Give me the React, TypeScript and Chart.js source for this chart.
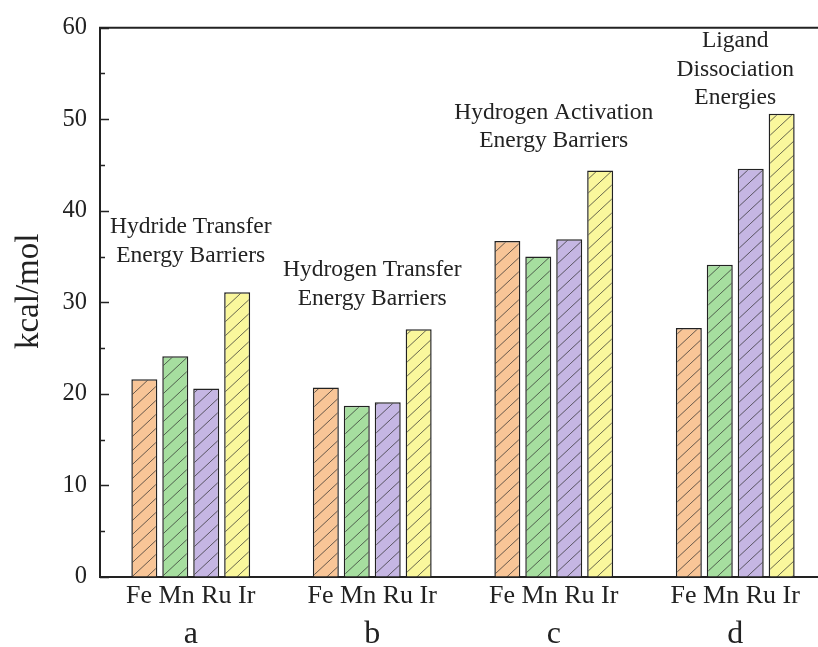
import React, { useEffect, useRef } from "react";
import { Chart, registerables } from "chart.js";

Chart.register(...registerables);

const groups = ["a", "b", "c", "d"];
const groupTickLabel = "Fe Mn Ru Ir";
const metals = ["Fe", "Mn", "Ru", "Ir"];
const feValues = [21.6, 20.7, 36.7, 27.2];
const mnValues = [24.1, 18.7, 35.0, 34.1];
const ruValues = [20.6, 19.1, 36.9, 44.6];
const irValues = [31.1, 27.05, 44.4, 50.6];
const metalColors = ["#F8C597", "#A6DE9F", "#C5B6E3", "#FAF79C"];
const annotationLines = [
  ["Hydride Transfer", "Energy Barriers"],
  ["Hydrogen Transfer", "Energy Barriers"],
  ["Hydrogen Activation", "Energy Barriers"],
  ["Ligand", "Dissociation", "Energies"],
];
const annotationAnchors = [35.1, 30.4, 47.6, 52.3];
const yMajorTicks = [0, 10, 20, 30, 40, 50, 60];
const yMinorTicks = [5, 15, 25, 35, 45, 55];
const yTitle = "kcal/mol";

const FONT = "'Liberation Serif', 'Times New Roman', serif";
const INK = "#222222";

function makeHatch(color: string): CanvasPattern | string {
  const w = 15;
  const h = 14;
  const c = document.createElement("canvas");
  c.width = w;
  c.height = h;
  const g = c.getContext("2d");
  if (!g) return color;
  g.fillStyle = color;
  g.fillRect(0, 0, w, h);
  g.strokeStyle = "rgba(45,45,45,0.8)";
  g.lineWidth = 0.9;
  g.beginPath();
  g.moveTo(-w, h);
  g.lineTo(0, 0);
  g.moveTo(0, h);
  g.lineTo(w, 0);
  g.moveTo(w, h);
  g.lineTo(2 * w, 0);
  g.stroke();
  const p = g.createPattern(c, "repeat");
  return p || color;
}

const decorPlugin = {
  id: "decor",
  afterDraw(chart: any) {
    const { ctx, chartArea, scales } = chart;
    const y = scales.y;
    const x = scales.x;
    ctx.save();
    ctx.strokeStyle = INK;
    ctx.lineWidth = 2;
    // top frame line
    ctx.beginPath();
    ctx.moveTo(chartArea.left - 1, chartArea.top);
    ctx.lineTo(chartArea.right + 2, chartArea.top);
    ctx.stroke();
    // inward ticks on y axis
    ctx.lineWidth = 1.6;
    ctx.beginPath();
    yMajorTicks.forEach((v) => {
      const py = Math.round(y.getPixelForValue(v)) + 0.5;
      ctx.moveTo(chartArea.left, py);
      ctx.lineTo(chartArea.left + 9, py);
    });
    yMinorTicks.forEach((v) => {
      const py = Math.round(y.getPixelForValue(v)) + 0.5;
      ctx.moveTo(chartArea.left, py);
      ctx.lineTo(chartArea.left + 5, py);
    });
    ctx.stroke();
    // annotations
    ctx.fillStyle = INK;
    ctx.font = `23.5px ${FONT}`;
    ctx.textAlign = "center";
    ctx.textBaseline = "middle";
    const lh = 28.5;
    annotationLines.forEach((lines, i) => {
      const cx = x.getPixelForValue(i);
      const cy = y.getPixelForValue(annotationAnchors[i]);
      const n = lines.length;
      lines.forEach((t, k) => {
        ctx.fillText(t, cx, cy - (n - 1 - k) * lh);
      });
    });
    // y title
    ctx.font = `33px ${FONT}`;
    ctx.translate(29, (chartArea.top + chartArea.bottom) / 2 - 11);
    ctx.rotate(-Math.PI / 2);
    ctx.fillText(yTitle, 0, 0);
    ctx.restore();
  },
};

export default function App() {
  const ref = useRef<HTMLCanvasElement | null>(null);

  useEffect(() => {
    const canvas = ref.current;
    if (!canvas) return;
    const series = [feValues, mnValues, ruValues, irValues];
    const chart = new Chart(canvas, {
      type: "bar",
      data: {
        labels: groups,
        datasets: metals.map((m, i) => ({
          label: m,
          data: series[i],
          backgroundColor: makeHatch(metalColors[i]) as any,
          borderColor: INK,
          borderWidth: 1.5,
          categoryPercentage: 0.682,
          barPercentage: 0.84,
        })),
      },
      options: {
        responsive: false,
        animation: false,
        devicePixelRatio: 1,
        layout: { padding: { left: 0, right: 4, top: 27, bottom: 0 } },
        plugins: {
          legend: { display: false },
          tooltip: { enabled: false },
        },
        scales: {
          y: {
            min: 0,
            max: 60,
            ticks: {
              stepSize: 10,
              padding: 13,
              color: INK,
              font: { family: FONT, size: 24.5 },
            },
            grid: { display: true, drawOnChartArea: false, drawTicks: false },
            border: { display: true, color: INK, width: 2 },
            afterFit: (s: any) => {
              s.width = 100;
            },
          },
          x: {
            weight: 0,
            ticks: {
              padding: 4,
              color: INK,
              font: { family: FONT, size: 26 },
              callback: () => groupTickLabel,
            },
            grid: { display: true, drawOnChartArea: false, drawTicks: false },
            border: { display: true, color: INK, width: 2 },
            afterFit: (s: any) => {
              s.height = 33;
            },
          },
          x2: {
            type: "category",
            position: "bottom",
            weight: 1,
            offset: true,
            labels: groups,
            ticks: {
              padding: -3,
              color: INK,
              font: { family: FONT, size: 32 },
            },
            grid: { display: false },
            border: { display: false },
            afterFit: (s: any) => {
              s.height = 37;
            },
          },
        },
      } as any,
      plugins: [decorPlugin],
    });
    return () => chart.destroy();
  }, []);

  return (
    <div
      style={{
        position: "fixed",
        left: 0,
        top: 0,
        width: 818,
        height: 647,
        overflow: "hidden",
        background: "#ffffff",
      }}
    >
      <canvas ref={ref} width={830} height={647} style={{ width: 830, height: 647, display: "block" }} />
    </div>
  );
}
